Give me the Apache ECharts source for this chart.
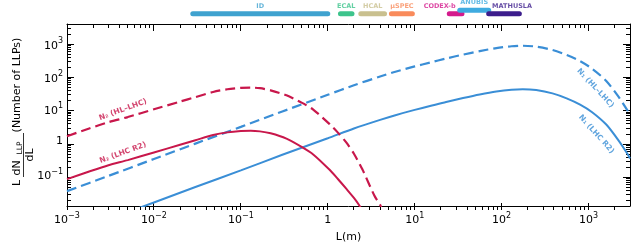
<!DOCTYPE html>
<html><head><meta charset="utf-8">
<script src="https://cdn.jsdelivr.net/npm/echarts@6/dist/echarts.min.js"></script>
<style>html,body{margin:0;padding:0;background:#fff}#c{width:632px;height:248px}</style>
</head><body><div id="c"></div>
<script>
// ---- data ----
const xMin = 0.001, xMax = 3000;
const yMin = 0.0105, yMax = 4000;
const xMajorTicks = [0.001, 0.01, 0.1, 1, 10, 100, 1000];
const yMajorTicks = [0.1, 1, 10, 100, 1000];

const blueL = [0.001, 0.003, 0.01, 0.03, 0.1, 0.3, 1, 2, 4, 6, 10, 15, 23, 36, 56, 87, 130, 175, 250, 385, 560, 800, 1100, 1600, 2200, 2800, 3000];
const n1HL  = [0.030, 0.088, 0.29, 0.86, 2.8, 8.3, 27, 53, 98, 138, 200, 262, 350, 460, 590, 730, 830, 860, 810, 640, 450, 290, 170, 72, 24, 9, 6.5];
const n1R2  = [0.0014, 0.0041, 0.0135, 0.040, 0.13, 0.39, 1.25, 2.5, 4.6, 6.4, 9.3, 12.2, 16.3, 21.4, 27.5, 34, 38.6, 40, 37.7, 29.8, 21, 13.5, 7.9, 3.3, 1.1, 0.42, 0.3];

const redL_R2 = [0.001, 0.0018, 0.003, 0.005, 0.01, 0.02, 0.03, 0.048, 0.07, 0.1, 0.13, 0.166, 0.22, 0.335, 0.5, 0.68, 1.05, 1.3, 1.64, 2.0, 2.33, 2.6];
const n2R2    = [0.07, 0.12, 0.187, 0.268, 0.46, 0.795, 1.09, 1.58, 1.90, 2.09, 2.14, 2.04, 1.78, 1.22, 0.68, 0.40, 0.135, 0.072, 0.035, 0.0185, 0.0105, 0.0065];
const redL_HL = [0.001, 0.0018, 0.003, 0.005, 0.01, 0.02, 0.03, 0.048, 0.07, 0.1, 0.13, 0.166, 0.22, 0.335, 0.5, 0.68, 1.05, 1.3, 1.64, 2.0, 2.5, 3.0, 3.5, 4.0, 4.3];
const n2HL    = [1.45, 2.5, 3.9, 5.6, 9.7, 16.7, 22.9, 33, 40, 44, 45, 43, 37, 26, 15.5, 9.5, 3.4, 1.9, 0.92, 0.42, 0.14, 0.048, 0.02, 0.0115, 0.007];

const curveLabels = ['N₂ (HL–LHC)', 'N₂ (LHC R2)', 'N₁ (HL–LHC)', 'N₁ (LHC R2)'];
const curveLabelAt = [[0.0044, 9.4], [0.0044, 0.45], [1200, 43], [1230, 1.67]];

const detNames = ['ID', 'ECAL', 'HCAL', 'μSPEC', 'CODEX-b', 'ANUBIS', 'MATHUSLA'];
const detStart = [0.028, 1.4, 2.4, 5.4, 25, 33, 71];
const detEnd   = [1.0, 1.9, 4.5, 9.4, 35, 71, 160];

// ---- layout & styles ----
const W = 632, H = 248;
const GRID = { left: 67, right: 2, top: 24, bottom: 38 };
const RED = '#c8174b', BLUE = '#3a8ed6';
const detColors = ['#3fa2cf', '#3dc48c', '#c9c08f', '#f98b5b', '#d41b8d', '#3fabe0', '#3c1d8c'];
const detLevel  = [13.7, 13.7, 13.7, 13.7, 13.7, 10.3, 13.7];
const detLabelDx = [0, 0, 0, 0, -16, 0, 8];
const MAJOR_LEN = 7, MINOR_LEN = 4;

function minors(lo, hi) {
  const out = [];
  for (let e = -4; e <= 4; e++) for (let k = 2; k <= 9; k++) {
    const v = k * Math.pow(10, e);
    if (v > lo && v < hi) out.push(+v.toPrecision(3));
  }
  return out;
}
const xMinorTicks = minors(xMin, xMax);
const yMinorTicks = minors(yMin, yMax);

const FONT = 'DejaVu Sans';
function supFmt(v) {
  const e = Math.round(Math.log10(v));
  if (e === 0) return '{c|1}';
  return '{b|10}{s|' + (e < 0 ? '−' + (-e) : e) + '}';
}
function labStyle(cPad) {
  return {
    fontFamily: FONT, fontSize: 11, color: '#000', formatter: supFmt,
    rich: {
      b: { fontFamily: FONT, fontSize: 11, color: '#000', lineHeight: 12, padding: [5, 0, 0, 0] },
      s: { fontFamily: FONT, fontSize: 8, color: '#000', lineHeight: 12, padding: [0, 0, 5, 0] },
      c: { fontFamily: FONT, fontSize: 11, color: '#000', lineHeight: 12, padding: [cPad, 0, 0, 0] }
    }
  };
}

function axisSet(type, pos, label, extra) {
  return Object.assign({
    type: 'log', logBase: 10, gridIndex: 0, position: pos,
    min: type === 'x' ? xMin : yMin, max: type === 'x' ? xMax : yMax,
    axisLine: { show: true, onZero: false, lineStyle: { color: '#000', width: 1 } },
    axisTick: { show: false },
    axisLabel: label ? Object.assign({ show: true, customValues: type === 'x' ? xMajorTicks : yMajorTicks }, label) : { show: false },
    splitLine: { show: false }, minorTick: { show: false }
  }, extra || {});
}

const xAxes = [
  axisSet('x', 'bottom', Object.assign({ margin: 6 }, labStyle(3.5)),
    { name: 'L(m)', nameLocation: 'middle', nameGap: 26, nameTextStyle: { fontFamily: FONT, fontSize: 11, color: '#000' } }),
  axisSet('x', 'top', null),
  { type: 'log', gridIndex: 1, min: xMin, max: xMax, show: false }
];
const yAxes = [
  axisSet('y', 'left', Object.assign({ margin: 4 }, labStyle(0))),
  axisSet('y', 'right', null),
  { type: 'value', gridIndex: 1, min: 0, max: 24, inverse: true, show: false }
];

const zip = (a, b) => a.map((v, i) => [v, b[i]]);

const series = [
  { type: 'line', name: 'N1 R2', data: zip(blueL, n1R2), symbol: 'none', smooth: 0.25, clip: true,
    lineStyle: { color: BLUE, width: 2 }, z: 3 },
  { type: 'line', name: 'N1 HL', data: zip(blueL, n1HL), symbol: 'none', smooth: 0.25, clip: true,
    lineStyle: { color: BLUE, width: 2.2, type: [10, 5] }, z: 3 },
  { type: 'line', name: 'N2 R2', data: zip(redL_R2, n2R2), symbol: 'none', smooth: 0.25, clip: true,
    lineStyle: { color: RED, width: 2 }, z: 4 },
  { type: 'line', name: 'N2 HL', data: zip(redL_HL, n2HL), symbol: 'none', smooth: 0.25, clip: true,
    lineStyle: { color: RED, width: 2.2, type: [10, 5] }, z: 4 },
  { type: 'scatter', symbolSize: 0, silent: true, z: 5,
    data: curveLabels.map((t, i) => ({
      value: curveLabelAt[i],
      label: { show: true, position: 'inside', formatter: t, rotate: [20, 20, -47, -48][i],
        color: i < 2 ? RED : BLUE, fontFamily: FONT, fontWeight: 'bold', fontSize: 7.5 }
    })) }
];
detNames.forEach((n, i) => {
  series.push({ type: 'line', xAxisIndex: 2, yAxisIndex: 2, symbol: 'none', silent: true,
    data: [[detStart[i], detLevel[i]], [detEnd[i], detLevel[i]]],
    lineStyle: { color: detColors[i], width: 5, cap: 'round' }, z: 2 });
});
series.push({ type: 'scatter', xAxisIndex: 2, yAxisIndex: 2, symbolSize: 0, silent: true, z: 3,
  data: detNames.map((n, i) => ({
    value: [Math.sqrt(detStart[i] * detEnd[i]), detLevel[i]],
    label: { show: true, position: 'inside', offset: [detLabelDx[i], -7.5], formatter: n,
      color: detColors[i], fontFamily: FONT, fontWeight: 'bold', fontSize: 6.5 }
  })) });

// ---- y-axis title (rotated fraction) ----
const tf = () => ({ fontFamily: FONT, fontSize: 11, fill: '#000' });
const graphic = [
  { type: 'text', x: 17, y: 183, rotation: Math.PI / 2, style: Object.assign(tf(), { text: 'L', align: 'center', verticalAlign: 'middle' }) },
  { type: 'text', x: 17, y: 168, rotation: Math.PI / 2, style: Object.assign(tf(), { text: 'dN', align: 'center', verticalAlign: 'middle' }) },
  { type: 'text', x: 20, y: 148, rotation: Math.PI / 2, style: Object.assign(tf(), { text: 'LLP', fontSize: 7.5, align: 'center', verticalAlign: 'middle' }) },
  { type: 'line', shape: { x1: 23.5, y1: 133, x2: 23.5, y2: 177 }, style: { stroke: '#000', lineWidth: 0.8 } },
  { type: 'text', x: 30, y: 155, rotation: Math.PI / 2, style: Object.assign(tf(), { text: 'dL', align: 'center', verticalAlign: 'middle' }) },
  { type: 'text', x: 17.5, y: 85, rotation: Math.PI / 2, style: Object.assign(tf(), { text: '(Number of LLPs)', align: 'center', verticalAlign: 'middle' }) }
];

// ---- inward tick marks on all four sides (log mapping of the plot frame) ----
const pL = GRID.left, pR = W - GRID.right, pT = GRID.top, pB = H - GRID.bottom;
const xPix = v => pL + (Math.log10(v) - Math.log10(xMin)) / Math.log10(xMax / xMin) * (pR - pL);
const yPix = v => pB - (Math.log10(v) - Math.log10(yMin)) / Math.log10(yMax / yMin) * (pB - pT);
const snap = v => Math.round(v - 0.5) + 0.5;
function tk(x1, y1, x2, y2) {
  return { type: 'line', shape: { x1: x1, y1: y1, x2: x2, y2: y2 }, style: { stroke: '#000', lineWidth: 1 } };
}
function addX(v, len) {
  const x = snap(xPix(v));
  graphic.push(tk(x, pB, x, pB - len));
  graphic.push(tk(x, pT, x, pT + len));
}
function addY(v, len) {
  const y = snap(yPix(v));
  graphic.push(tk(pL, y, pL + len, y));
  graphic.push(tk(pR, y, pR - len, y));
}
xMajorTicks.forEach(v => addX(v, MAJOR_LEN));
xMinorTicks.forEach(v => addX(v, MINOR_LEN));
yMajorTicks.forEach(v => addY(v, MAJOR_LEN));
yMinorTicks.forEach(v => addY(v, MINOR_LEN));

const chart = echarts.init(document.getElementById('c'), null, { renderer: 'canvas' });
chart.setOption({
  animation: false,
  backgroundColor: '#fff',
  grid: [
    GRID,
    { left: 67, right: 2, top: 0, height: 24 }
  ],
  xAxis: xAxes, yAxis: yAxes, series, graphic
});
</script>
</body></html>
